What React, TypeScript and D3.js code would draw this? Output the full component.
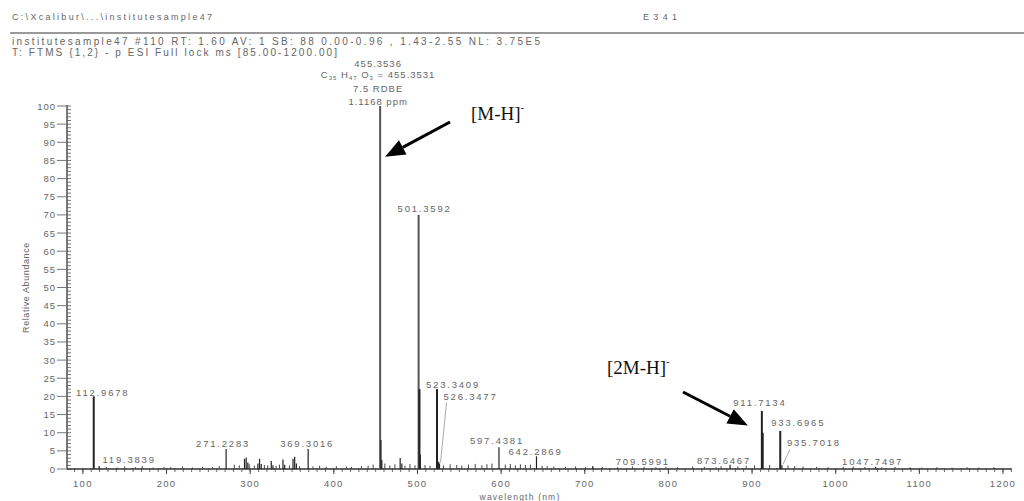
import * as d3 from 'd3';

// ---- spectrum data (m/z, relative abundance %) ----
const peakMz = [
  112.9678, 119.3839, 271.2283, 293.2, 295.2, 297.2, 309.2, 311.2, 313.2, 325.2, 327.2,
  339.2, 341.2, 351.2, 353.2, 355.2, 369.3016, 455.3536, 456.357, 457.36, 479.3, 481.3,
  501.3592, 502.362, 503.36, 523.3409, 525.3, 526.3477, 597.4381, 642.2869, 709.5991,
  873.6467, 911.7134, 912.717, 933.6965, 935.7018, 1047.7497,
];
const peakAbund = [
  20, 0.8, 5.5, 2.8, 3.2, 1.8, 1.5, 2.8, 1.4, 2.2, 1.0,
  2.6, 1.2, 2.8, 3.4, 1.5, 5.5, 100, 8, 2.5, 3.0, 1.5,
  70, 22, 4, 22, 2, 1.5, 6, 3.5, 0.8,
  1.2, 16, 10, 10.5, 1, 0.6,
];

// baseline noise
const noiseMz = [
  128, 141, 150, 163, 171, 184, 197, 205, 219, 231, 243, 255, 263, 281, 287, 299, 305, 317,
  321, 331, 335, 347, 359, 375, 383, 391, 403, 415, 421, 433, 441, 447, 461, 467, 473, 485,
  491, 497, 509, 515, 531, 539, 547, 553, 561, 569, 577, 583, 589, 605, 611, 617, 623, 629,
  635, 649, 655, 663, 677, 689, 701, 721, 739, 757, 771, 785, 797, 811, 829, 843, 857, 863,
  883, 893, 903, 921, 943, 951, 961, 977, 991, 1009, 1021, 1035, 1055, 1071, 1089, 1103,
  1121, 1139, 1157, 1171, 1189,
];
const noiseAbund = [
  0.6, 0.4, 0.7, 0.5, 0.8, 0.4, 0.6, 0.5, 0.7, 0.4, 0.6, 0.5, 0.8, 1.2, 1.0, 1.3, 0.9, 1.1,
  1.0, 0.9, 1.2, 1.0, 0.8, 0.7, 0.9, 0.6, 0.8, 0.7, 0.6, 0.8, 0.9, 1.2, 1.5, 1.0, 1.3, 0.9,
  1.4, 1.0, 1.1, 0.9, 1.0, 1.3, 1.1, 0.9, 1.2, 1.4, 1.0, 1.3, 1.5, 1.2, 1.4, 1.0, 1.3, 1.1,
  1.2, 0.9, 0.8, 0.7, 0.6, 0.7, 0.5, 0.6, 0.5, 0.7, 0.6, 0.5, 0.6, 0.5, 0.7, 0.6, 0.5, 0.8,
  0.7, 0.9, 1.0, 1.1, 1.0, 0.8, 0.7, 0.6, 0.5, 0.6, 0.7, 0.6, 0.5, 0.6, 0.5, 0.4, 0.5, 0.4,
  0.5, 0.4, 0.5,
];

// peak labels
const labelMz = [
  112.9678, 119.3839, 271.2283, 369.3016, 501.3592, 523.3409, 526.3477, 597.4381,
  642.2869, 709.5991, 873.6467, 911.7134, 933.6965, 935.7018, 1047.7497,
];
const labelText = [
  '112.9678', '119.3839', '271.2283', '369.3016', '501.3592', '523.3409', '526.3477',
  '597.4381', '642.2869', '709.5991', '873.6467', '911.7134', '933.6965', '935.7018',
  '1047.7497',
];
// label placement relative to peak top (px)
const labelDx = [9, 30, -3, -1, 6, 16, 31, -2, -1, 50, -6, -2, 18, 32, -3];
const labelDy = [0, -3, -2, -2, -3, -1, -64, -3, -1, -1, -1, -5, -5, -19, -2];
const connected = ['526.3477', '935.7018'];

const basePeakLines = ['455.3536', '7.5 RDBE', '1.1168 ppm'];

const xTicks = d3.range(100, 1201, 100);
const xMinor = d3.range(90, 1211, 10);
const yTicks = d3.range(0, 101, 5);
const yMinor = d3.range(0, 101, 1);

const headerLines = [
  'C:\\Xcalibur\\...\\institutesample47',
  'institutesample47 #110  RT: 1.60  AV: 1  SB: 88  0.00-0.96 , 1.43-2.55  NL: 3.75E5',
  'T: FTMS {1,2}  - p ESI Full lock ms [85.00-1200.00]',
];

const W = 1024;
const H = 501;
const sans = '"Liberation Sans", Arial, sans-serif';
const serif = '"Liberation Serif", "Times New Roman", serif';
const grey = '#666';

const x = d3.scaleLinear().domain([81, 1200]).range([67, 1003]);
const y = d3.scaleLinear().domain([0, 100]).range([469, 106]);

function Arrow({ x1, y1, x2, y2 }: { x1: number; y1: number; x2: number; y2: number }) {
  const ang = Math.atan2(y2 - y1, x2 - x1);
  const len = 20;
  const half = 8;
  const bx = x2 - len * Math.cos(ang);
  const by = y2 - len * Math.sin(ang);
  const px = -Math.sin(ang) * half;
  const py = Math.cos(ang) * half;
  return (
    <g>
      <line x1={x1} y1={y1} x2={bx} y2={by} stroke="#000" strokeWidth={3} />
      <polygon points={`${x2},${y2} ${bx + px},${by + py} ${bx - px},${by - py}`} fill="#000" />
    </g>
  );
}

export default function App() {
  const peakIdx = (mz: number) => peakMz.indexOf(mz);
  const bx = x(455.3536);

  return (
    <svg width={W} height={H} style={{ position: 'fixed', left: 0, top: 0, background: '#fff' }}>
      {/* header */}
      <g fill={grey} fontFamily={sans}>
        <text x={12} y={20} fontSize={9} textLength={200} lengthAdjust="spacing">{headerLines[0]}</text>
        <text x={643} y={20} fontSize={9} textLength={34} lengthAdjust="spacing">E341</text>
        <text x={12} y={45} fontSize={10} textLength={528} lengthAdjust="spacing">{headerLines[1]}</text>
        <text x={12} y={56} fontSize={10} textLength={325} lengthAdjust="spacing">{headerLines[2]}</text>
      </g>
      <line x1={10} x2={W} y1={33} y2={33} stroke="#999" strokeWidth={2} />

      {/* y axis */}
      <line x1={x(81)} x2={x(81)} y1={y(100) - 1} y2={y(0)} stroke="#333" strokeWidth={1.3} />
      {yMinor.map((v) => (
        <line key={'ym' + v} x1={x(81)} x2={x(81) + 4} y1={y(v)} y2={y(v)} stroke="#555" strokeWidth={0.8} />
      ))}
      {yTicks.map((v) => (
        <g key={'yt' + v}>
          <line x1={x(81) - 10} x2={x(81)} y1={y(v)} y2={y(v)} stroke="#777" strokeWidth={1} />
          <text x={x(81) - 11} y={y(v) + 3.5} textAnchor="end" fontFamily={sans} fontSize={9.5}
            fill={grey} letterSpacing={1}>{v}</text>
        </g>
      ))}
      <text transform={`translate(29,${(y(0) + y(100)) / 2}) rotate(-90)`} textAnchor="middle"
        fontFamily={sans} fontSize={9} fill={grey} letterSpacing={0.6}>Relative Abundance</text>

      {/* x axis */}
      <line x1={x(81)} x2={x(1210)} y1={y(0)} y2={y(0)} stroke="#333" strokeWidth={1.3} />
      {xMinor.map((v) => (
        <line key={'xm' + v} x1={x(v)} x2={x(v)} y1={y(0) - 1} y2={y(0) + 3} stroke="#444" strokeWidth={0.8} />
      ))}
      {xTicks.map((v) => (
        <g key={'xt' + v}>
          <line x1={x(v)} x2={x(v)} y1={y(0)} y2={y(0) + 5} stroke="#444" strokeWidth={1} />
          <text x={x(v)} y={y(0) + 18} textAnchor="middle" fontFamily={sans} fontSize={9.5}
            fill={grey} letterSpacing={1.3}>{v}</text>
        </g>
      ))}
      <text x={520} y={500} textAnchor="middle" fontFamily={sans} fontSize={8.5} fill={grey}
        letterSpacing={1.2}>wavelength (nm)</text>

      {/* noise */}
      {noiseMz.map((m, i) => (
        <line key={'n' + i} x1={x(m)} x2={x(m)} y1={y(0)} y2={y(noiseAbund[i])} stroke="#444" strokeWidth={1} />
      ))}

      {/* peaks */}
      {peakMz.map((m, i) => (
        <line key={'p' + i} x1={x(m)} x2={x(m)} y1={y(0)} y2={y(peakAbund[i])}
          stroke={peakAbund[i] > 50 ? '#555' : '#222'} strokeWidth={peakAbund[i] > 8 ? 2 : 1.2} />
      ))}

      {/* labels */}
      {labelMz.map((m, i) => {
        const a = peakAbund[peakIdx(m)];
        const lx = x(m) + labelDx[i];
        const ly = y(a) + labelDy[i];
        const link = connected.includes(labelText[i]);
        return (
          <g key={'l' + i}>
            {link && (
              <line x1={x(m) + 1} y1={y(a) - 1} x2={lx - 24} y2={ly + 3} stroke="#aaa" strokeWidth={1} />
            )}
            <text x={lx} y={ly} textAnchor="middle" fontFamily={sans} fontSize={9.5} fill={grey}
              letterSpacing={1.8}>{labelText[i]}</text>
          </g>
        );
      })}

      {/* base peak annotation */}
      <g fontFamily={sans} fontSize={9.5} fill={grey} textAnchor="middle" letterSpacing={1}>
        <text x={bx - 2} y={y(100) - 39}>{basePeakLines[0]}</text>
        <text x={bx - 2} y={y(100) - 28}>
          <tspan>C</tspan><tspan fontSize={6} dy={2}>35</tspan><tspan dy={-2}> H</tspan>
          <tspan fontSize={6} dy={2}>47</tspan><tspan dy={-2}> O</tspan><tspan fontSize={6} dy={2}>3</tspan>
          <tspan dy={-2}> = 455.3531</tspan>
        </text>
        <text x={bx - 2} y={y(100) - 14}>{basePeakLines[1]}</text>
        <text x={bx - 2} y={y(100) - 1}>{basePeakLines[2]}</text>
      </g>

      {/* ion annotations */}
      <text x={471} y={120} fontFamily={serif} fontSize={19} fill="#111">
        [M-H]<tspan fontSize={11} dy={-9}>-</tspan>
      </text>
      <Arrow x1={450} y1={122} x2={x(455.3536) + 5} y2={y(86)} />
      <text x={607} y={374} fontFamily={serif} fontSize={19} fill="#111">
        [2M-H]<tspan fontSize={11} dy={-9}>-</tspan>
      </text>
      <Arrow x1={683} y1={392} x2={x(911.7134) - 14} y2={y(12)} />
    </svg>
  );
}
